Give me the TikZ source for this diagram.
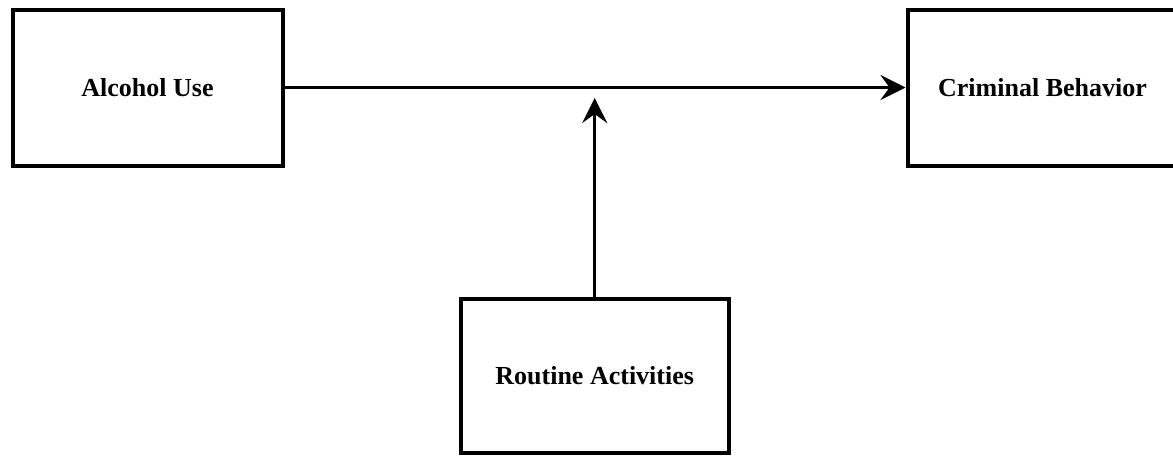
\documentclass[tikz,border=0pt]{standalone}
\usepackage{fontspec}
\setmainfont{Liberation Serif}
\usetikzlibrary{arrows.meta}
\begin{document}
\begin{tikzpicture}[x=1pt,y=-1pt,
  box/.style={draw=black, line width=4pt, minimum width=270pt, minimum height=156pt,
    inner sep=0pt, outer sep=0pt, font=\fontsize{26}{30}\selectfont\bfseries},
  link/.style={line width=3.5pt, -{Stealth[length=25pt, width=25pt, inset=9pt]}}]
\useasboundingbox (0,0) rectangle (1173,456);
\clip (0,0) rectangle (1173,456);
\node[box] (alc) at (147.5,87.5) {Alcohol Use};
\node[box] (crim) at (1042.5,87.5) {Criminal Behavior};
\node[box, minimum width=268pt, minimum height=154pt] (rout) at (594.7,376) {\raisebox{-3pt}{Routine Activities}};
\coordinate (mid) at (594.7,98);
\draw[link] (alc.east) -- ([xshift=-2pt]crim.west);
\draw[link] (rout.north) -- (mid);
\end{tikzpicture}
\end{document}
